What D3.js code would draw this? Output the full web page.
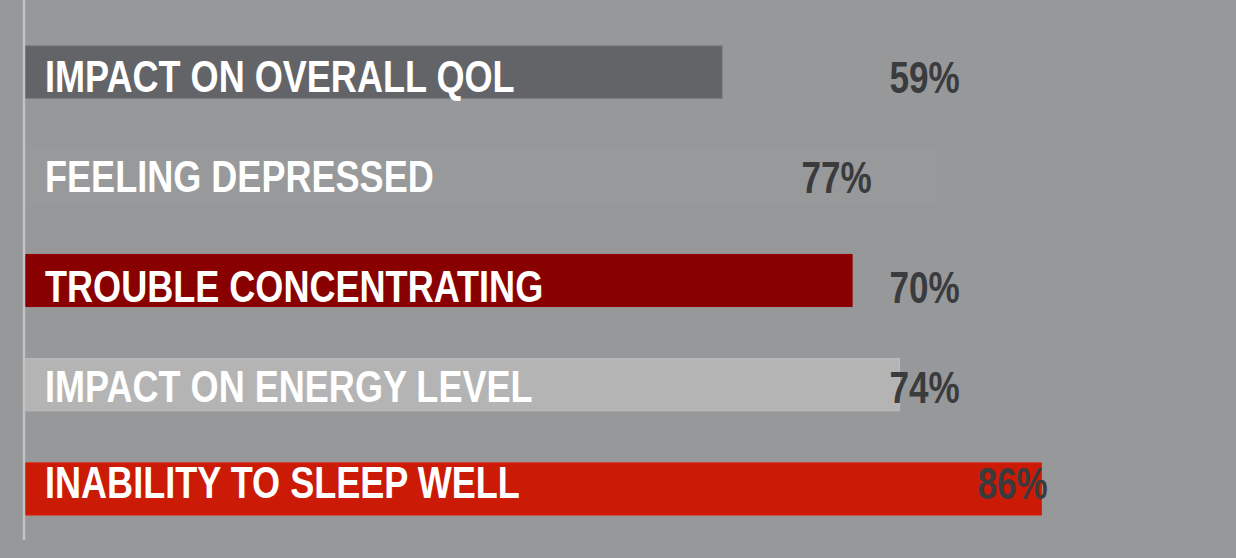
<!DOCTYPE html>
<html>
<head>
<meta charset="utf-8">
<script src="https://cdn.jsdelivr.net/npm/d3@7"></script>
<style>
  html, body { margin: 0; padding: 0; background: #97989a; }
  svg { display: block; }
  text { font-family: 'Liberation Sans', Arial, sans-serif; font-weight: bold; }
</style>
</head>
<body>
<svg id="chart" width="1236" height="558"></svg>
<script>
// ---- data ----
const categories = [
  "IMPACT ON OVERALL QOL",
  "FEELING DEPRESSED",
  "TROUBLE CONCENTRATING",
  "IMPACT ON ENERGY LEVEL",
  "INABILITY TO SLEEP WELL"
];
const values = [59, 77, 70, 74, 86];
const valueLabels = ["59%", "77%", "70%", "74%", "86%"];

// ---- layout / style ----
const W = 1236, H = 558;
const barColors = ["#636468", "#98999b", "#890000", "#b4b4b4", "#cb1a05"];
const strokeBright = [0.25, 0.06, 0.25, 0.15, 0.25];
const labelShift = [0, -88, 0, 0, 88];     // value-label column shifts as in the picture
const textNudge = [0, -2, 7, 5, 0];
const narrow = 0.82;

const svg = d3.select("#chart");
svg.append("rect").attr("width", W).attr("height", H).attr("fill", "#97989a");

const x = d3.scaleLinear().domain([0, 100]).range([24, 1207]);
const y = d3.scaleBand().domain(categories).range([46, 515]).paddingInner(0.5).paddingOuter(0);
const yText = d3.scalePoint().domain(categories).range([92, 498]);

const data = categories.map((c, i) => ({ c, v: values[i], lab: valueLabels[i], i }));

// bars
svg.append("g").selectAll("rect").data(data).join("rect")
  .attr("x", x(0))
  .attr("y", d => y(d.c))
  .attr("width", d => x(d.v) - x(0))
  .attr("height", y.bandwidth())
  .attr("fill", (d, i) => barColors[i])
  .attr("stroke", (d, i) => d3.color(barColors[i]).brighter(strokeBright[i]))
  .attr("stroke-width", 1);

// left axis line
svg.append("line")
  .attr("x1", x(0)).attr("x2", x(0))
  .attr("y1", 0).attr("y2", 540)
  .attr("stroke", "#c2c3c5").attr("stroke-width", 2.5);

// category labels
svg.append("g").selectAll("text").data(data).join("text")
  .attr("transform", d => `translate(45,${yText(d.c) + textNudge[d.i]}) scale(${narrow},1)`)
  .attr("fill", "#ffffff")
  .attr("font-size", 44)
  .text(d => d.c);

// value labels
const baseCol = x(79.1);
svg.append("g").selectAll("text").data(data).join("text")
  .attr("transform", d => `translate(${baseCol + labelShift[d.i]},${yText(d.c) + textNudge[d.i] + 1}) scale(0.78,1)`)
  .attr("text-anchor", "end")
  .attr("fill", "#3a3b3d")
  .attr("font-size", 45)
  .text(d => d.lab);
</script>
</body>
</html>
